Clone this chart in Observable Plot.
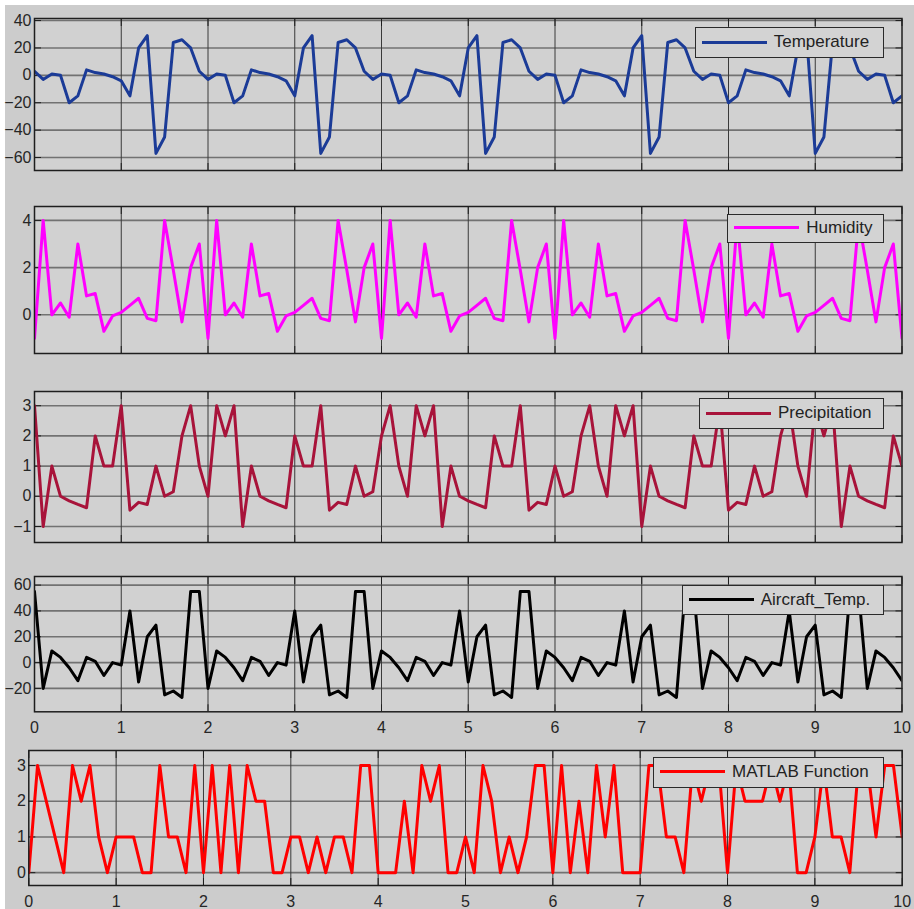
<!DOCTYPE html>
<html>
<head>
<meta charset="utf-8">
<script src="https://cdn.jsdelivr.net/npm/d3@7"></script>
<script src="https://cdn.jsdelivr.net/npm/@observablehq/plot@0.6"></script>
<style>
  html, body { margin: 0; padding: 0; background: #ffffff; }
  #fig { position: relative; width: 914px; height: 909px; background: #ffffff; overflow: hidden; }
  #bg { position: absolute; left: 5px; top: 5px; width: 909px; height: 904px; background: #cccccc; }
  .panel { position: absolute; left: 0; }
  .legend { position: absolute; box-sizing: border-box; border: 1.5px solid #2a2a2a; background: #d3d3d3;
            font-family: "Liberation Sans", Arial, sans-serif; font-size: 17px; color: #222; }
  .legend .sw { position: absolute; height: 3px; }
  .legend .lbl { position: absolute; white-space: nowrap; line-height: 1; }
</style>
</head>
<body>
<div id="fig"><div id="bg"></div></div>
<script>
const time = [0,0.1,0.2,0.3,0.4,0.5,0.6,0.7,0.8,0.9,1,1.1,1.2,1.3,1.4,1.5,1.6,1.7,1.8,1.9,
  2,2.1,2.2,2.3,2.4,2.5,2.6,2.7,2.8,2.9,3,3.1,3.2,3.3,3.4,3.5,3.6,3.7,3.8,3.9,
  4,4.1,4.2,4.3,4.4,4.5,4.6,4.7,4.8,4.9,5,5.1,5.2,5.3,5.4,5.5,5.6,5.7,5.8,5.9,
  6,6.1,6.2,6.3,6.4,6.5,6.6,6.7,6.8,6.9,7,7.1,7.2,7.3,7.4,7.5,7.6,7.7,7.8,7.9,
  8,8.1,8.2,8.3,8.4,8.5,8.6,8.7,8.8,8.9,9,9.1,9.2,9.3,9.4,9.5,9.6,9.7,9.8,9.9,10];

const temperature = [
  3,-3,1,0,-20,-15,4,2,1,-1,-4,-15,20,29,-57,-45,24,26,20,
  3,-3,1,0,-20,-15,4,2,1,-1,-4,-15,20,29,-57,-45,24,26,20,
  3,-3,1,0,-20,-15,4,2,1,-1,-4,-15,20,29,-57,-45,24,26,20,
  3,-3,1,0,-20,-15,4,2,1,-1,-4,-15,20,29,-57,-45,24,26,20,
  3,-3,1,0,-20,-15,4,2,1,-1,-4,-15,20,29,-57,-45,24,26,20,
  3,-3,1,0,-20,-15];

const humidity = [
  -1,4,0,0.5,-0.1,3,0.8,0.9,-0.7,-0.05,0.1,0.4,0.7,-0.15,-0.25,4,1.9,-0.3,2,3,
  -1,4,0,0.5,-0.1,3,0.8,0.9,-0.7,-0.05,0.1,0.4,0.7,-0.15,-0.25,4,1.9,-0.3,2,3,
  -1,4,0,0.5,-0.1,3,0.8,0.9,-0.7,-0.05,0.1,0.4,0.7,-0.15,-0.25,4,1.9,-0.3,2,3,
  -1,4,0,0.5,-0.1,3,0.8,0.9,-0.7,-0.05,0.1,0.4,0.7,-0.15,-0.25,4,1.9,-0.3,2,3,
  -1,4,0,0.5,-0.1,3,0.8,0.9,-0.7,-0.05,0.1,0.4,0.7,-0.15,-0.25,4,1.9,-0.3,2,3,
  -1];

const precipitation = [
  3,-1,1,0,-0.15,-0.27,-0.38,2,1,1,3,-0.46,-0.2,-0.27,1,0,0.15,2,3,1,0,3,2,
  3,-1,1,0,-0.15,-0.27,-0.38,2,1,1,3,-0.46,-0.2,-0.27,1,0,0.15,2,3,1,0,3,2,
  3,-1,1,0,-0.15,-0.27,-0.38,2,1,1,3,-0.46,-0.2,-0.27,1,0,0.15,2,3,1,0,3,2,
  3,-1,1,0,-0.15,-0.27,-0.38,2,1,1,3,-0.46,-0.2,-0.27,1,0,0.15,2,3,1,0,3,2,
  3,-1,1,0,-0.15,-0.27,-0.38,2,1];

const aircraftTemp = [
  55,-20,9,4,-4,-14,4,1,-10,0,-2,40,-15,20,29,-25,-22,-27,55,
  55,-20,9,4,-4,-14,4,1,-10,0,-2,40,-15,20,29,-25,-22,-27,55,
  55,-20,9,4,-4,-14,4,1,-10,0,-2,40,-15,20,29,-25,-22,-27,55,
  55,-20,9,4,-4,-14,4,1,-10,0,-2,40,-15,20,29,-25,-22,-27,55,
  55,-20,9,4,-4,-14,4,1,-10,0,-2,40,-15,20,29,-25,-22,-27,55,
  55,-20,9,4,-4,-14];

const matlabFunction = [
  0,3,2,1,0,3,2,3,1,0,
  1,1,1,0,0,3,1,1,0,3,
  0,3,0,3,0,3,2,2,0,0,
  1,1,0,1,0,1,1,0,3,3,
  0,0,0,2,0,3,2,3,0,0,
  1,0,3,2,0,1,0,1,3,3,
  0,3,0,2,0,3,1,3,0,0,
  0,3,3,1,1,0,3,2,3,3,
  0,3,2,2,2,3,2,3,0,0,
  1,3,1,1,0,3,3,1,3,3,
  1];

const xTicks = [0,1,2,3,4,5,6,7,8,9,10];
const ticksTemperature = [-60,-40,-20,0,20,40];
const ticksHumidity = [0,2,4];
const ticksPrecipitation = [-1,0,1,2,3];
const ticksAircraft = [-20,0,20,40,60];
const ticksMatlab = [0,1,2,3];

const names = ["Temperature","Humidity","Precipitation","Aircraft_Temp.","MATLAB Function"];
const colors = ["#1b3b97","#ff00ff","#a8133a","#000000","#ff0000"];

// ---- layout ----
const W = 914;
const panels = [
  {series: temperature, ticks: ticksTemperature, top: 18, bottom: 170, left: 34, right: 901.5, domain: [-69.5, 41.5], xLabels: false,
   legend: {x0: 694.7, y0: 27.3, x1: 884, y1: 58.3}},
  {series: humidity, ticks: ticksHumidity, top: 206, bottom: 353, left: 34, right: 901.5, domain: [-1.64, 4.59], xLabels: false,
   legend: {x0: 727.3, y0: 214.3, x1: 884, y1: 242.7}},
  {series: precipitation, ticks: ticksPrecipitation, top: 390.7, bottom: 541.7, left: 34, right: 901.5, domain: [-1.53, 3.47], xLabels: false,
   legend: {x0: 699, y0: 398.3, x1: 884, y1: 429.3}},
  {series: aircraftTemp, ticks: ticksAircraft, top: 575.7, bottom: 711, left: 34, right: 901.5, domain: [-38.1, 66.65], xLabels: true,
   legend: {x0: 681.7, y0: 585, x1: 884, y1: 615}},
  {series: matlabFunction, ticks: ticksMatlab, top: 750, bottom: 885, left: 28.3, right: 901.7, domain: [-0.36, 3.42], xLabels: true,
   legend: {x0: 653, y0: 757.3, x1: 884, y1: 787.7}}
];

const fig = document.getElementById("fig");
const FONT = '"Liberation Sans", Arial, sans-serif';

panels.forEach((p, i) => {
  const mt = 10, mb = p.xLabels ? 30 : 6;
  const svg = Plot.plot({
    width: W,
    height: mt + (p.bottom - p.top) + mb,
    marginTop: mt, marginBottom: mb, marginLeft: p.left, marginRight: W - p.right,
    style: {background: "transparent", fontFamily: FONT, fontSize: "16px", color: "#262626", overflow: "visible"},
    x: {domain: [0, 10], axis: null},
    y: {domain: p.domain, axis: null},
    marks: [
      Plot.frame({fill: "#d1d1d1"}),
      Plot.gridY(p.ticks, {stroke: "#727272", strokeOpacity: 1, strokeWidth: 1.6}),
      Plot.gridX(xTicks.slice(1, -1), {stroke: "#3a3a3a", strokeOpacity: 1, strokeWidth: 1}),
      Plot.axisY(p.ticks, {anchor: "left", tickSize: 7, dx: 7, tickFormat: () => "", stroke: "#1e1e1e"}),
      Plot.axisY(p.ticks, {anchor: "right", tickSize: 7, dx: -7, tickFormat: () => "", stroke: "#1e1e1e"}),
      Plot.axisX(xTicks, {anchor: "top", tickSize: 7, dy: 7, tickFormat: () => "", stroke: "#1e1e1e"}),
      Plot.axisX(xTicks, {anchor: "bottom", tickSize: 7, dy: -7, tickFormat: () => "", stroke: "#1e1e1e"}),
      Plot.line(time, {x: d => d, y: p.series, stroke: colors[i], strokeWidth: 3, strokeLinejoin: "round", clip: true}),
      Plot.axisY(p.ticks, {anchor: "left", tickSize: 0, tickPadding: 3, fontSize: 16}),
      p.xLabels ? Plot.axisX(xTicks, {anchor: "bottom", tickSize: 0, tickPadding: 10, fontSize: 16}) : null,
      Plot.frame({stroke: "#1e1e1e", strokeWidth: 1.5})
    ]
  });
  svg.classList.add("panel");
  svg.style.top = (p.top - mt) + "px";
  fig.appendChild(svg);

  // legend box
  const L = p.legend;
  const box = document.createElement("div");
  box.className = "legend";
  box.style.left = L.x0 + "px";
  box.style.top = L.y0 + "px";
  box.style.width = (L.x1 - L.x0) + "px";
  box.style.height = (L.y1 - L.y0) + "px";
  const h = L.y1 - L.y0;
  const sw = document.createElement("div");
  sw.className = "sw";
  sw.style.background = colors[i];
  sw.style.left = "6px";
  sw.style.width = "65px";
  sw.style.top = (h / 2 - 3) + "px";
  const lbl = document.createElement("div");
  lbl.className = "lbl";
  lbl.textContent = names[i];
  lbl.style.left = "78px";
  lbl.style.top = (h / 2 - 10.5) + "px";
  box.appendChild(sw);
  box.appendChild(lbl);
  fig.appendChild(box);
});
</script>
</body>
</html>
